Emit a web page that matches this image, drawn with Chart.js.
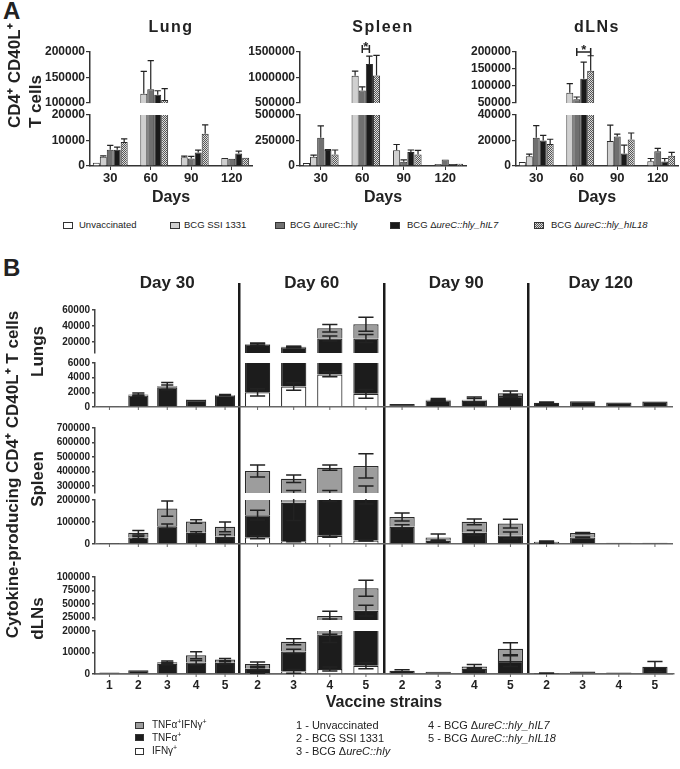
<!DOCTYPE html>
<html>
<head>
<meta charset="utf-8">
<script src="https://cdn.jsdelivr.net/npm/chart.js@4.4.1/dist/chart.umd.min.js"></script>
<style>
    body { margin: 0; background: #fff; }
    #page { position: relative; width: 680px; height: 769px; overflow: hidden;
            font-family: 'Liberation Sans', Arial, Helvetica, sans-serif; color: #222; }
    canvas { position: absolute; }
    .big { position: absolute; font-weight: bold; font-size: 24px; }
    .leg { position: absolute; white-space: nowrap; line-height: 12px; }
    .leg sup { font-size: 70%; line-height: 0; }
    .sw { position: absolute; border: 1px solid #333; box-sizing: border-box; }
</style>
</head>
<body>
<div id="page">
    <div class="big" style="left:3px; top:-3px">A</div>
    <div class="big" style="left:3px; top:254px">B</div>
    <canvas id="lung" width="262" height="210" style="left:0; top:0"></canvas>
    <canvas id="spleen" width="251" height="210" style="left:225px; top:0"></canvas>
    <canvas id="dln" width="224" height="210" style="left:456px; top:0"></canvas>
    <canvas id="cyto" width="680" height="529" style="left:0; top:240px"></canvas>
    <div id="legA"></div>
    <div id="legB"></div>
</div>
<script>
// ---------------- panel A : CD4+ CD40L+ T cells ----------------
const daysA = ['30', '60', '90', '120'];
const seriesA = ['Unvaccinated', 'BCG SSI 1331', 'BCG ΔureC::hly', 'BCG ΔureC::hly_hIL7', 'BCG ΔureC::hly_hIL18'];

// [series][day]
const lungMean = [[1300, null, null, null], [3600, 118000, 3400, 3100], [6400, 127000, 2900, 2800],
                  [6400, 116000, 5300, 4900], [9400, 106000, 12600, 3200]];
const lungErr  = [[0, 0, 0, 0], [400, 44000, 500, 0], [1700, 56000, 900, 0],
                  [1000, 8000, 900, 900], [1200, 22000, 3500, 0]];
const spleenMean = [[29000, null, null, null], [90000, 1033000, 154000, 19000], [276000, 743000, 42000, 64000],
                    [157000, 1263000, 138000, 20000], [112000, 1039000, 112000, 22000]];
const spleenErr  = [[0, 0, 0, 0], [16000, 92000, 57000, 0], [118000, 73000, 19000, 0],
                    [3000, 158000, 19000, 0], [45000, 395000, 42000, 0]];
const dlnMean = [[3200, null, null, null], [7700, 80400, 19700, 3700], [22100, 60800, 23200, 11500],
                 [20000, 121500, 9900, 3500], [17300, 145000, 20800, 8000]];
const dlnErr  = [[0, 0, 0, 0], [1600, 26600, 12300, 2200], [9600, 6800, 1800, 2400],
                 [4000, 49000, 6400, 2400], [3700, 44000, 5100, 2700]];

const lungTicksTop = [100000, 150000, 200000];
const lungTicksBot = [0, 10000, 20000];
const spleenTicksTop = [500000, 1000000, 1500000];
const spleenTicksBot = [0, 250000, 500000];
const dlnTicksTop = [50000, 100000, 150000, 200000];
const dlnTicksBot = [0, 20000, 40000];

// significance brackets: series pair, day index, level
const spleenSig = { pair: [2, 3], day: 1, level: 1560000 };
const dlnSig = { pair: [2, 4], day: 1, level: 200000 };

// ---------------- panel B : cytokine-producing cells ----------------
const days = ['Day 30', 'Day 60', 'Day 90', 'Day 120'];
const strainNo = ['1', '2', '3', '4', '5'];
const strainNames = ['Unvaccinated', 'BCG SSI 1331', 'BCG ΔureC::hly', 'BCG ΔureC::hly_hIL7', 'BCG ΔureC::hly_hIL18'];
const parts = ['IFNγ+', 'TNFα+', 'TNFα+IFNγ+'];   // stacked bottom -> top

// [strain][day]
const lungIfn     = [[0, null, null, null], [0, 2000, 0, 0], [0, 2800, 0, 0], [0, 4440, 0, 0], [0, 1800, 0, 0]];
const lungIfnErr  = [[0, 0, 0, 0], [0, 490, 0, 0], [0, 500, 0, 0], [0, 320, 0, 0], [0, 600, 0, 0]];
const lungTnf     = [[150, null, null, null], [1550, 14700, 400, 580], [2700, 10500, 900, 800],
                     [950, 19760, 850, 620], [1550, 22400, 1500, 750]];
const lungTnfErr  = [[0, 0, 0, 0], [100, 1500, 0, 90], [300, 800, 100, 0], [0, 3000, 300, 0], [0, 5000, 200, 0]];
const lungBoth    = [[0, null, null, null], [150, 500, 0, 0], [140, 400, 80, 0], [70, 12900, 130, 0], [90, 17800, 370, 50]];
const lungBothErr = [[0, 0, 0, 0], [200, 1100, 0, 0], [500, 800, 170, 0], [0, 4600, 400, 0], [80, 8800, 300, 0]];

const splIfn     = [[0, null, null, null], [0, 31000, 0, 0], [0, 12000, 0, 0], [0, 37000, 0, 0], [0, 16000, 0, 0]];
const splIfnErr  = [[0, 0, 0, 0], [0, 7000, 0, 0], [0, 2000, 0, 0], [0, 6000, 0, 0], [0, 2000, 0, 0]];
const splTnf     = [[1500, null, null, null], [30000, 100000, 78000, 4000], [81000, 175000, 15000, 30000],
                    [51000, 193000, 51000, 6000], [33000, 224000, 39000, 6000]];
const splTnfErr  = [[0, 0, 0, 0], [5000, 22000, 10000, 1000], [10000, 80000, 3000, 2000],
                    [5000, 37000, 12000, 0], [10000, 58000, 15000, 0]];
const splBoth    = [[500, null, null, null], [21000, 271000, 45000, 6500], [80000, 161000, 15000, 19600],
                    [51000, 195000, 49700, 0], [45000, 197000, 54000, 0]];
const splBothErr = [[0, 0, 0, 0], [10000, 42000, 18000, 3000], [35000, 26000, 16000, 3000],
                    [8000, 18000, 13000, 0], [22000, 84000, 20000, 0]];

const dlnIfn     = [[0, null, null, null], [0, 200, 0, 0], [0, 1200, 0, 0], [0, 2300, 0, 0], [0, 3800, 0, 0]];
const dlnIfnErr  = [[0, 0, 0, 0], [0, 100, 0, 0], [0, 900, 0, 0], [0, 900, 0, 0], [0, 1400, 0, 0]];
const dlnTnf     = [[700, null, null, null], [1800, 2200, 1500, 150], [4800, 9300, 1070, 1200],
                    [5300, 16000, 2400, 750], [5200, 33500, 6000, 3400]];
const dlnTnfErr  = [[0, 0, 0, 0], [0, 500, 500, 300], [500, 1000, 0, 0], [1000, 3700, 500, 0], [500, 10000, 2500, 2400]];
const dlnBoth    = [[0, null, null, null], [0, 2200, 0, 0], [700, 4500, 0, 0], [3400, 9200, 1100, 0], [1500, 41700, 5700, 0]];
const dlnBothErr = [[0, 0, 0, 0], [0, 1000, 0, 0], [500, 1400, 0, 0], [1600, 9000, 900, 0], [500, 15000, 2800, 0]];

const lungTopTicks = [20000, 40000, 60000];
const lungBotTicks = [0, 2000, 4000, 6000];
const splTopTicks = [300000, 400000, 500000, 600000, 700000];
const splBotTicks = [0, 100000, 200000];
const dlnTopTicks = [25000, 50000, 75000, 100000];
const dlnBotTicks = [0, 10000, 20000];
// broken axis ranges [min, max]
const lungTopRange = [6000, 60000], lungBotRange = [0, 6000];
const splTopRange = [250000, 700000], splBotRange = [0, 200000];
const dlnTopRange = [20000, 100000], dlnBotRange = [0, 20000];

// ---------------------------------------------------------------
const FONT = "'Liberation Sans', Arial, Helvetica, sans-serif";
const INK = '#222';
Chart.defaults.font.family = FONT;
Chart.defaults.color = INK;

function checker(canvas) {
    const c = document.createElement('canvas');
    c.width = 2; c.height = 2;
    const g = c.getContext('2d');
    g.fillStyle = '#dcdcdc'; g.fillRect(0, 0, 2, 2);
    g.fillStyle = '#555'; g.fillRect(0, 0, 1, 1); g.fillRect(1, 1, 1, 1);
    return canvas.getContext('2d').createPattern(c, 'repeat');
}

// keep each dataset inside its own piece of the broken axis
const segClip = {
    id: 'segClip',
    beforeDatasetDraw(chart, args) {
        const s = args.meta.vScale, a = chart.chartArea, ctx = chart.ctx;
        ctx.save();
        ctx.beginPath();
        ctx.rect(a.left - 2, s.top, a.right - a.left + 4, s.bottom - s.top);
        ctx.clip();
    },
    afterDatasetDraw(chart) { chart.ctx.restore(); }
};

function drawErrors(chart, twoSided, capFrac, lw) {
    const ctx = chart.ctx, a = chart.chartArea;
    chart.data.datasets.forEach((ds, i) => {
        if (!ds.errs) return;
        const meta = chart.getDatasetMeta(i);
        const s = meta.vScale;
        const unit = Math.abs(s.getPixelForValue(1000) - s.getPixelForValue(0)) / 1000;
        ctx.save();
        ctx.beginPath();
        ctx.rect(a.left - 2, s.top - 1, a.right - a.left + 4, s.bottom - s.top + 1);
        ctx.clip();
        ctx.strokeStyle = INK;
        ctx.lineWidth = lw;
        meta.data.forEach((bar, j) => {
            const v = ds.data[j], e = ds.errs[j];
            if (v == null || !v || !e) return;
            const d = e * unit, hw = bar.width * capFrac;
            const y0 = twoSided ? bar.y + d : bar.y;
            ctx.beginPath();
            ctx.moveTo(bar.x, y0); ctx.lineTo(bar.x, bar.y - d);
            ctx.moveTo(bar.x - hw, bar.y - d); ctx.lineTo(bar.x + hw, bar.y - d);
            if (twoSided) { ctx.moveTo(bar.x - hw, y0); ctx.lineTo(bar.x + hw, y0); }
            ctx.stroke();
        });
        ctx.restore();
    });
}

function spacer(weight, stackWeight, width, stack) {
    return {
        type: 'linear', position: 'left', stack: stack, weight: weight, stackWeight: stackWeight,
        afterFit: s => { s.width = width; },
        ticks: { display: false }, grid: { display: false }, border: { display: false }
    };
}

// ---------------- panel A charts ----------------
function decoA(cfg) {
    return {
        id: 'decoA',
        afterDraw(chart) {
            const ctx = chart.ctx, a = chart.chartArea;
            ctx.save();
            ctx.fillStyle = INK; ctx.strokeStyle = INK;
            ctx.textAlign = 'center'; ctx.textBaseline = 'middle';
            ctx.font = 'bold 16px ' + FONT;
            ctx.letterSpacing = '1.5px';
            ctx.fillText(cfg.title, (a.left + a.right) / 2, a.top - 24);
            ctx.letterSpacing = '0px';
            if (cfg.yTitle) {
                ctx.font = 'bold 17px ' + FONT;
                ctx.textAlign = 'left';
                cfg.yTitle.forEach((t, k) => {
                    ctx.save();
                    ctx.translate(a.left - 75 + k * 21, a.bottom - 38);
                    ctx.rotate(-Math.PI / 2);
                    ctx.fillText(t, 0, 0);
                    ctx.restore();
                });
            }
            if (cfg.sig) {
                const sg = cfg.sig;
                const x1 = chart.getDatasetMeta(sg.pair[0]).data[sg.day].x;
                const x2 = chart.getDatasetMeta(sg.pair[1]).data[sg.day].x;
                const y = chart.scales.top.getPixelForValue(sg.level);
                ctx.lineWidth = 1.5;
                ctx.beginPath();
                ctx.moveTo(x1, y); ctx.lineTo(x2, y);
                ctx.moveTo(x1, y - 4); ctx.lineTo(x1, y + 4);
                ctx.moveTo(x2, y - 4); ctx.lineTo(x2, y + 4);
                ctx.stroke();
                ctx.font = 'bold 13px ' + FONT;
                ctx.textBaseline = 'alphabetic';
                ctx.fillText('*', (x1 + x2) / 2, y + 2);
            }
            ctx.restore();
        },
        afterDatasetsDraw(chart) { drawErrors(chart, false, 0.45, 1.2); }
    };
}

function organChart(id, cfg, mean, err, ticksTop, ticksBot, axisWidth, padRight) {
    const canvas = document.getElementById(id);
    const fills = ['#ffffff', '#d0d0d0', '#707070', '#1a1a1a', checker(canvas)];
    const datasets = [];
    ['top', 'bot'].forEach(seg => {
        mean.forEach((vals, k) => {
            datasets.push({
                label: seriesA[k], data: vals, errs: err[k], yAxisID: seg, stack: 'g' + k,
                backgroundColor: fills[k], borderColor: '#2b2b2b', borderWidth: 1
            });
        });
    });
    const yAx = (ticks, weight, sw) => ({
        type: 'linear', position: 'left', stack: 'v', weight: weight, stackWeight: sw,
        min: ticks[0], max: ticks[ticks.length - 1],
        afterBuildTicks: s => { s.ticks = ticks.map(v => ({ value: v })); },
        afterFit: s => { s.width = axisWidth; },
        ticks: { callback: v => String(v), font: { size: 12, weight: 'bold' }, color: INK, padding: 1, autoSkip: false },
        grid: { drawOnChartArea: false, tickLength: 4, color: '#333', lineWidth: 1.2 },
        border: { color: '#333', width: 1.5 }
    });
    return new Chart(canvas, {
        type: 'bar',
        data: { labels: daysA, datasets: datasets },
        options: {
            responsive: false, animation: false, events: [],
            layout: { padding: { top: 52, right: padRight, left: 0, bottom: 0 } },
            plugins: { legend: { display: false }, tooltip: { enabled: false } },
            datasets: { bar: { categoryPercentage: 0.86, barPercentage: 1.0 } },
            scales: {
                x: {
                    type: 'category', offset: true,
                    afterFit: s => { s.height = 44; },
                    ticks: { font: { size: 13, weight: 'bold' }, color: INK, padding: 1, maxRotation: 0, autoSkip: false },
                    grid: { display: true, drawOnChartArea: false, drawTicks: true, tickLength: 4, offset: false, color: '#333' },
                    border: { color: '#333', width: 1.5 },
                    title: { display: true, text: 'Days', font: { size: 16, weight: 'bold' }, color: INK,
                             padding: { top: 0, bottom: 3 } }
                },
                top: yAx(ticksTop, 3, 51),
                gap: spacer(2, 12, axisWidth, 'v'),
                bot: yAx(ticksBot, 1, 51)
            }
        },
        plugins: [segClip, decoA(cfg)]
    });
}

organChart('lung', { title: 'Lung', yTitle: ['CD4⁺ CD40L⁺', 'T cells'] },
           lungMean, lungErr, lungTicksTop, lungTicksBot, 90, 10);
organChart('spleen', { title: 'Spleen', sig: spleenSig },
           spleenMean, spleenErr, spleenTicksTop, spleenTicksBot, 75, 10);
organChart('dln', { title: 'dLNs', sig: dlnSig },
           dlnMean, dlnErr, dlnTicksTop, dlnTicksBot, 60, 2);

// ---------------- panel B chart ----------------
const partColors = ['#ffffff', '#1c1c1c', '#9d9d9d'];
const rowsB = [
    { name: 'Lungs', top: 'lT', bot: 'lB', vals: [lungIfn, lungTnf, lungBoth], errs: [lungIfnErr, lungTnfErr, lungBothErr] },
    { name: 'Spleen', top: 'sT', bot: 'sB', vals: [splIfn, splTnf, splBoth], errs: [splIfnErr, splTnfErr, splBothErr] },
    { name: 'dLNs', top: 'dT', bot: 'dB', vals: [dlnIfn, dlnTnf, dlnBoth], errs: [dlnIfnErr, dlnTnfErr, dlnBothErr] }
];

const datasetsB = [];
rowsB.forEach(row => {
    [row.top, row.bot].forEach(axisId => {
        strainNo.forEach((sn, s) => {
            parts.forEach((p, c) => {
                datasetsB.push({
                    label: p, data: row.vals[c][s], errs: row.errs[c][s], yAxisID: axisId,
                    stack: 's' + sn, part: c, strain: s, isBottom: axisId === row.bot,
                    backgroundColor: partColors[c], borderColor: '#2a2a2a', borderWidth: 1.2
                });
            });
        });
    });
});

function yAxisB(range, ticks, weight, sw) {
    return {
        type: 'linear', position: 'left', stack: 'rows', stacked: true, weight: weight, stackWeight: sw,
        min: range[0], max: range[1],
        afterBuildTicks: s => { s.ticks = ticks.map(v => ({ value: v })); },
        afterFit: s => { s.width = 95; },
        ticks: { callback: v => String(v), font: { size: 10, weight: 'bold' }, color: INK, padding: 2, autoSkip: false },
        grid: {
            drawOnChartArea: true, tickLength: 3, lineWidth: 1.5, tickColor: '#444',
            color: c => (c.tick && c.tick.value === 0) ? '#666' : 'rgba(0,0,0,0)'
        },
        border: { color: '#444', width: 1.5 }
    };
}

const decoB = {
    id: 'decoB',
    afterDatasetsDraw(chart) { drawErrors(chart, true, 0.3, 1.5); },
    afterDraw(chart) {
        const ctx = chart.ctx, a = chart.chartArea, x = chart.scales.x;
        ctx.save();
        ctx.fillStyle = INK; ctx.strokeStyle = '#666';
        ctx.textAlign = 'center'; ctx.textBaseline = 'middle';
        ctx.font = 'bold 17px ' + FONT;
        days.forEach((d, i) => ctx.fillText(d, x.getPixelForValue(i), a.top));

        // small ticks under each bar, strain numbers under the last row
        ctx.lineWidth = 1;
        ctx.font = 'bold 12px ' + FONT;
        chart.data.datasets.forEach((ds, i) => {
            if (!ds.isBottom || ds.part !== 0) return;
            const meta = chart.getDatasetMeta(i);
            const s = meta.vScale;
            meta.data.forEach((bar, j) => {
                if (ds.data[j] == null) return;
                ctx.beginPath();
                ctx.moveTo(bar.x, s.bottom); ctx.lineTo(bar.x, s.bottom + 3);
                ctx.stroke();
                if (ds.yAxisID === 'dB') ctx.fillText(strainNo[ds.strain], bar.x, a.bottom + 12);
            });
        });

        ctx.font = 'bold 16px ' + FONT;
        ctx.fillText('Vaccine strains', (a.left + a.right) / 2, a.bottom + 29);

        ctx.font = 'bold 17px ' + FONT;
        rowsB.forEach(row => {
            const t = chart.scales[row.top], b = chart.scales[row.bot];
            ctx.save();
            ctx.translate(38, (t.top + b.bottom) / 2 - 7);
            ctx.rotate(-Math.PI / 2);
            ctx.fillText(row.name, 0, 0);
            ctx.restore();
        });
        ctx.save();
        ctx.translate(13, (a.top + a.bottom) / 2 - 4);
        ctx.rotate(-Math.PI / 2);
        ctx.fillText('Cytokine-producing CD4⁺ CD40L⁺ T cells', 0, 0);
        ctx.restore();
        ctx.restore();
    }
};

new Chart(document.getElementById('cyto'), {
    type: 'bar',
    data: { labels: days, datasets: datasetsB },
    options: {
        responsive: false, animation: false, events: [],
        layout: { padding: { top: 43, right: 7, left: 0, bottom: 95 } },
        plugins: { legend: { display: false }, tooltip: { enabled: false } },
        datasets: { bar: { categoryPercentage: 1.0, barPercentage: 0.7, skipNull: true } },
        scales: {
            x: {
                type: 'category', offset: true,
                afterFit: s => { s.height = 0; },
                ticks: { display: false },
                grid: {
                    offset: true, drawTicks: false, lineWidth: 2.5,
                    color: c => (c.index > 0 && c.index < days.length) ? '#1a1a1a' : 'rgba(0,0,0,0)'
                },
                border: { color: '#666', width: 1.5 }
            },
            pad0: spacer(12, 27, 95, 'rows'),
            lT: yAxisB(lungTopRange, lungTopTicks, 11, 43),
            g1: spacer(10, 10, 95, 'rows'),
            lB: yAxisB(lungBotRange, lungBotTicks, 9, 44),
            g2: spacer(8, 21, 95, 'rows'),
            sT: yAxisB(splTopRange, splTopTicks, 7, 65),
            g3: spacer(6, 7, 95, 'rows'),
            sB: yAxisB(splBotRange, splBotTicks, 5, 44),
            g4: spacer(4, 33, 95, 'rows'),
            dT: yAxisB(dlnTopRange, dlnTopTicks, 3, 43),
            g5: spacer(2, 11, 95, 'rows'),
            dB: yAxisB(dlnBotRange, dlnBotTicks, 1, 43)
        }
    },
    plugins: [segClip, decoB]
});

// ---------------- legends ----------------
const ital = (name, all) => all ? name.replace(/Δ(\S+)/, 'Δ<i>$1</i>')
                                : name.replace(/Δ(\S+_\S+)/, 'Δ<i>$1</i>');
const sup = t => t.replace(/\+/g, '<sup>+</sup>');

const legA = document.getElementById('legA');
const swA = ['#fff', '#d0d0d0', '#707070', '#1a1a1a',
             'repeating-conic-gradient(#555 0 25%, #dcdcdc 0 50%) 0 0/2px 2px'];
const legAX = [[63, 79], [170, 184], [275, 290], [390, 407], [534, 551]];
seriesA.forEach((name, k) => {
    legA.insertAdjacentHTML('beforeend',
        `<div class="sw" style="left:${legAX[k][0]}px; top:222px; width:10px; height:7px; background:${swA[k]}"></div>` +
        `<div class="leg" style="left:${legAX[k][1]}px; top:219px; font-size:9.5px">${ital(name, false)}</div>`);
});

const legB = document.getElementById('legB');
const legBY = [751, 737.5, 725];   // IFNγ+, TNFα+, TNFα+IFNγ+
parts.forEach((p, c) => {
    legB.insertAdjacentHTML('beforeend',
        `<div class="sw" style="left:135px; top:${legBY[c] - 3.5}px; width:9px; height:7px; background:${partColors[c]}"></div>` +
        `<div class="leg" style="left:152px; top:${legBY[c] - 6}px; font-size:10px">${sup(p)}</div>`);
});
const keyPos = [[296, 725.5], [296, 738.5], [296, 751.5], [428, 725.5], [428, 738.5]];
strainNames.forEach((name, s) => {
    legB.insertAdjacentHTML('beforeend',
        `<div class="leg" style="left:${keyPos[s][0]}px; top:${keyPos[s][1] - 6.5}px; font-size:11px">` +
        `${strainNo[s]} - ${ital(name, true)}</div>`);
});
</script>
</body>
</html>
